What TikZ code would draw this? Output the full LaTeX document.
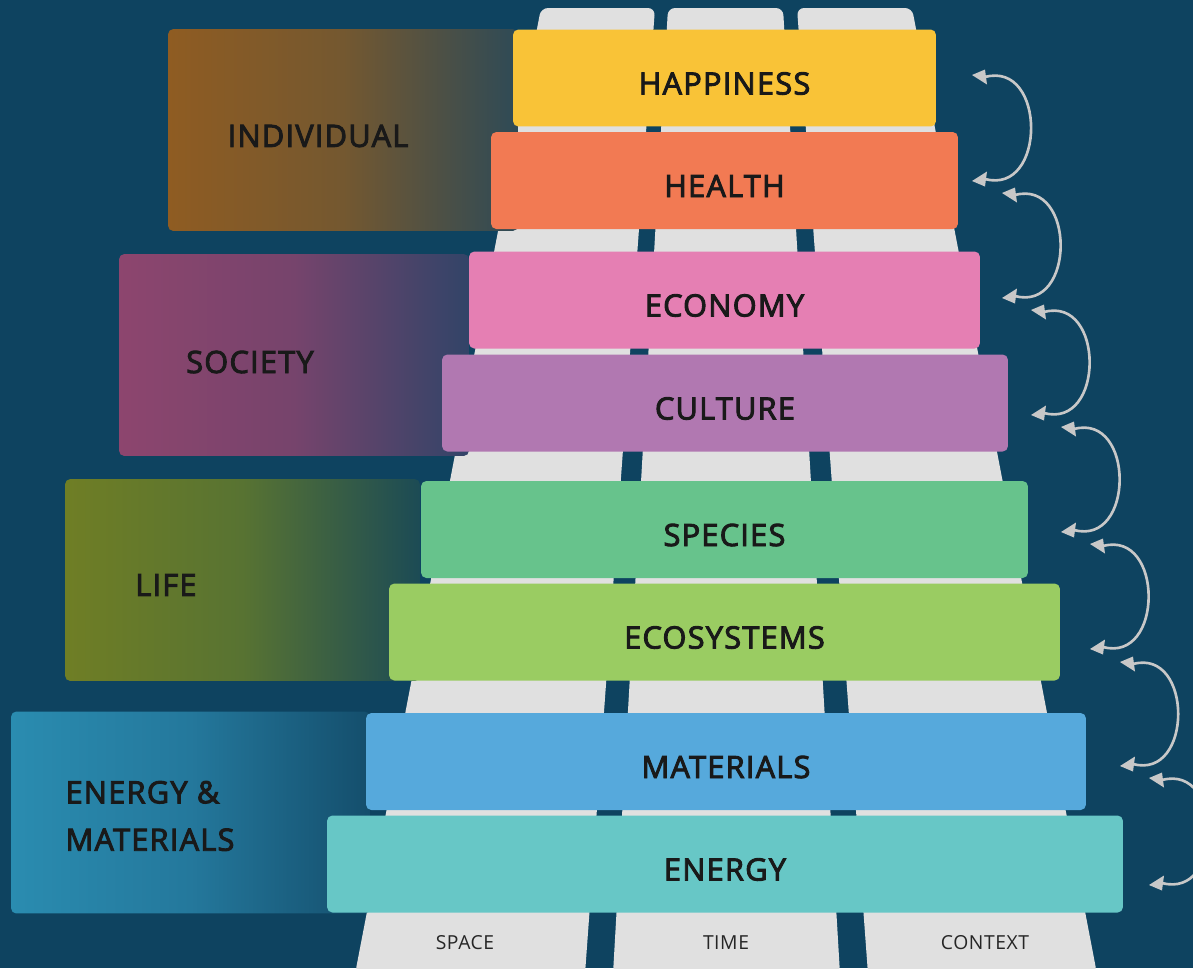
\documentclass[tikz,border=0pt]{standalone}
\usepackage{fontspec}
\setmainfont{Open Sans}[LetterSpace=4,FakeBold=3]
\newfontfamily\pillarfont{Open Sans}[LetterSpace=3]

\definecolor{bgnavy}{HTML}{0E4360}
\definecolor{pillargray}{HTML}{E0E0E0}
\definecolor{arcgray}{HTML}{C8C8C8}
\definecolor{happycol}{HTML}{F9C337}
\definecolor{healthcol}{HTML}{F27A53}
\definecolor{economycol}{HTML}{E57FB3}
\definecolor{culturecol}{HTML}{B178B1}
\definecolor{speciescol}{HTML}{67C38C}
\definecolor{ecocol}{HTML}{9ACC62}
\definecolor{materialcol}{HTML}{56A9DC}
\definecolor{energycol}{HTML}{67C7C6}

\begin{document}
\begin{tikzpicture}[x=0.02cm,y=-0.02cm,
    bar/.style={shape=rectangle,rounded corners=3pt,minimum height=1.94cm,
      text height=0.66cm,text depth=0pt,
      font=\fontsize{17.5}{20}\selectfont,text=black!90},
    group/.style={shape=rectangle,rounded corners=3pt,minimum height=4.04cm},
    grouplabel/.style={font=\fontsize{17.5}{27}\selectfont,text=black!90,align=left},
    pillar/.style={fill=pillargray,rounded corners=4pt},
    pillarlabel/.style={font=\pillarfont\fontsize{11}{13}\selectfont,text=black!85},
    feedback/.style={draw=arcgray,line width=1.5pt},
    tipmark/.style={fill=arcgray}]
        \fill[bgnavy] (0,0) rectangle (1193,968);
        \useasboundingbox (0,0) rectangle (1193,968);

        % pillars
        \fill[pillar] (355,974) -- (541,8) -- (655,8) -- (585,974) -- cycle;
        \fill[pillar] (613,974) -- (668,8) -- (783,8) -- (840,974) -- cycle;
        \fill[pillar] (868,974) -- (797,8) -- (912,8) -- (1097,974) -- cycle;
        \node[pillarlabel] (space) at (465,943) {SPACE};
        \node[pillarlabel] (time) at (726,943) {TIME};
        \node[pillarlabel] (context) at (985,943) {CONTEXT};

        % groups
        \node[group,left color={rgb,255:red,143;green,92;blue,34},right color={rgb,255:red,46;green,74;blue,86},
          middle color={rgb,255:red,116;green,88;blue,48},minimum width=7.0cm] (individualbox) at (343,130) {};
        \node[group,left color={rgb,255:red,141;green,69;blue,110},right color={rgb,255:red,50;green,68;blue,104},
          middle color={rgb,255:red,118;green,68;blue,108},minimum width=7.0cm] (societybox) at (294,355) {};
        \node[group,left color={rgb,255:red,111;green,126;blue,37},right color={rgb,255:red,28;green,75;blue,85},
          middle color={rgb,255:red,88;green,115;blue,50},minimum width=7.1cm] (lifebox) at (242.5,580) {};
        \node[group,left color={rgb,255:red,42;green,140;blue,176},right color={rgb,255:red,20;green,78;blue,108},
          middle color={rgb,255:red,36;green,120;blue,156},minimum width=7.18cm] (energybox) at (190.5,812.5) {};
        \node[grouplabel] (individual) at (318,136) {INDIVIDUAL};
        \node[grouplabel] (society) at (250,362) {SOCIETY};
        \node[grouplabel] (life) at (166,585) {LIFE};
        \node[grouplabel] (energymat) at (150,816) {ENERGY \&\\MATERIALS};

        % bars
        \node[bar,fill=happycol,minimum width=8.46cm] (happiness) at (724.5,78) {HAPPINESS};
        \node[bar,fill=healthcol,minimum width=9.34cm] (health) at (724.5,180.5) {HEALTH};
        \node[bar,fill=economycol,minimum width=10.22cm] (economy) at (724.5,300) {ECONOMY};
        \node[bar,fill=culturecol,minimum width=11.32cm] (culture) at (725,403) {CULTURE};
        \node[bar,fill=speciescol,minimum width=12.14cm] (species) at (724.5,529.5) {SPECIES};
        \node[bar,fill=ecocol,minimum width=13.42cm] (ecosystems) at (724.5,632) {ECOSYSTEMS};
        \node[bar,fill=materialcol,minimum width=14.4cm] (materials) at (726,761.5) {MATERIALS};
        \node[bar,fill=energycol,minimum width=15.92cm] (energy) at (725,864) {ENERGY};

        % feedback arcs
        \foreach \n/\x/\ya/\yb in {1/972/75/181,2/1002/193/298,3/1031/310/415,4/1061/427/532,
                                   5/1090/544/649,6/1120/662/766,7/1149/778/885}{
          \coordinate (top\n) at (\x,\ya);
          \coordinate (bot\n) at (\x,\yb);
          \coordinate (topbase\n) at (\x+13,\ya+2);
          \coordinate (botbase\n) at (\x+13,\yb-2);
          \draw[feedback] (topbase\n) to[out=15,in=-15,looseness=1.6] (botbase\n);
          \fill[tipmark] (top\n) -- ++(13,-5.5) -- ++(2,15) -- cycle;
          \fill[tipmark] (bot\n) -- ++(15,-9.5) -- ++(-2,15) -- cycle;
        }
\end{tikzpicture}
\end{document}
